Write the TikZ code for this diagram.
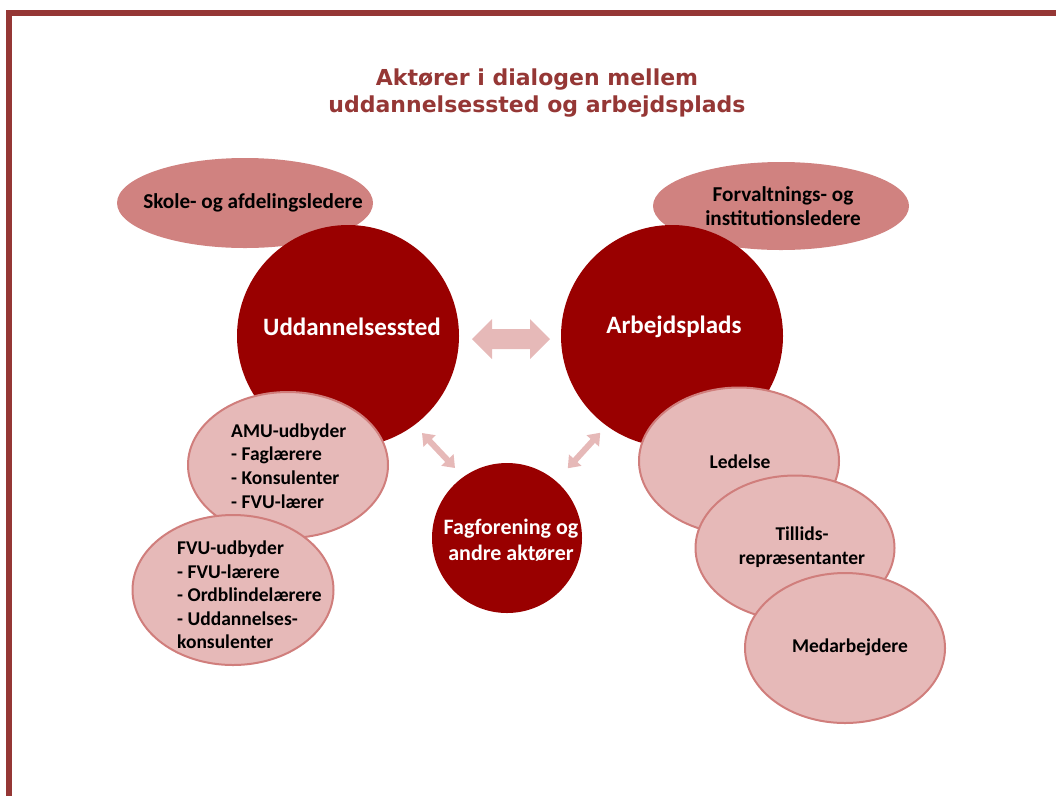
\documentclass[tikz,border=0pt]{standalone}
\usepackage{fontspec}
\setmainfont{Carlito}
\newfontfamily\titlefont{DejaVu Sans}
\usetikzlibrary{shapes.geometric}
\definecolor{framered}{RGB}{149,55,53}
\definecolor{bigred}{RGB}{153,0,0}
\definecolor{midpink}{RGB}{208,130,128}
\definecolor{lightpink}{RGB}{230,185,184}
\definecolor{edgepink}{RGB}{208,126,124}
\tikzset{
  x=1pt, y=-1pt,
  bigcircle/.style={circle, fill=bigred, inner sep=0pt, minimum size=#1},
  topell/.style={ellipse, fill=midpink, inner sep=0pt},
  subell/.style={ellipse, fill=lightpink, draw=edgepink, line width=2pt, inner sep=0pt},
  bodytext/.style={inner sep=0pt, font=\bfseries\fontsize{19.5}{23.6}\selectfont},
  toptext/.style={inner sep=0pt, font=\bfseries\fontsize{21.2}{24}\selectfont},
  whitetext/.style={inner sep=0pt, text=white},
  bigarrow/.pic={\fill[lightpink] (-39,0) -- (-19,20) -- (-19,10) -- (19,10) -- (19,20) -- (39,0) -- (19,-20) -- (19,-10) -- (-19,-10) -- (-19,-20) -- cycle;},
  smallarrow/.pic={\fill[lightpink] (-24,0) -- (-13,8.5) -- (-13,3) -- (13,3) -- (13,8.5) -- (24,0) -- (13,-8.5) -- (13,-3) -- (-13,-3) -- (-13,-8.5) -- cycle;},
}
\begin{document}
\begin{tikzpicture}
\useasboundingbox (0,0) rectangle (1056,796);
% frame
\fill[framered] (6,10) rectangle (1056,16);
\fill[framered] (6,10) rectangle (12,796);
% title
\node[inner sep=0pt, text=framered, align=center, font=\titlefont\bfseries\fontsize{22}{27}\selectfont] (title) at (537,93) {Aktører i dialogen mellem\\uddannelsessted og arbejdsplads};
% top ellipses (behind the circles)
\node[topell, minimum width=256, minimum height=90] (skole) at (245,203) {};
\node[toptext] (skoletxt) at (253,203) {Skole- og afdelingsledere};
\node[topell, minimum width=256, minimum height=88] (forv) at (781,206) {};
\node[toptext, align=center] (forvtxt) at (783,206) {Forvaltnings- og\\institutionsledere};
% big circles
\node[bigcircle=222] (udd) at (348,336) {};
\node[whitetext, font=\bfseries\fontsize{25}{30}\selectfont] (uddtxt) at (352,327) {Uddannelsessted};
\node[bigcircle=222] (arb) at (672,336) {};
\node[whitetext, font=\bfseries\fontsize{25}{30}\selectfont] (arbtxt) at (674,327) {Arbejdsplads};
\node[bigcircle=150] (fag) at (507,538) {};
\node[whitetext, align=center, font=\bfseries\fontsize{22}{26}\selectfont] (fagtxt) at (511,540) {Fagforening og\\andre aktører};
% arrows
\coordinate (a1) at (511,339);
\coordinate (a2) at (438.5,450.5);
\coordinate (a3) at (584,450.5);
\pic[rotate=0] at (a1) {bigarrow};
\pic[rotate=-46.7] at (a2) {smallarrow};
\pic[rotate=47.6] at (a3) {smallarrow};
% left sub ellipses
\node[subell, minimum width=200, minimum height=146] (amu) at (288,465) {};
\node[bodytext, align=left, anchor=west] (amutxt) at (231,466) {AMU-udbyder\\- Faglærere\\- Konsulenter\\- FVU-lærer};
\node[subell, minimum width=201, minimum height=150] (fvu) at (233,590) {};
\node[bodytext, align=left, anchor=west] (fvutxt) at (177,595) {FVU-udbyder\\- FVU-lærere\\- Ordblindelærere\\- Uddannelses-\\konsulenter};
% right sub ellipses
\node[subell, minimum width=200, minimum height=147] (led) at (739,461) {};
\node[bodytext] (ledtxt) at (740,462) {Ledelse};
\node[subell, minimum width=199, minimum height=145] (til) at (795,548) {};
\node[bodytext, align=center] (tiltxt) at (802,547) {Tillids-\\repræsentanter};
\node[subell, minimum width=200, minimum height=150] (med) at (845,648) {};
\node[bodytext] (medtxt) at (850,647) {Medarbejdere};
\end{tikzpicture}
\end{document}
